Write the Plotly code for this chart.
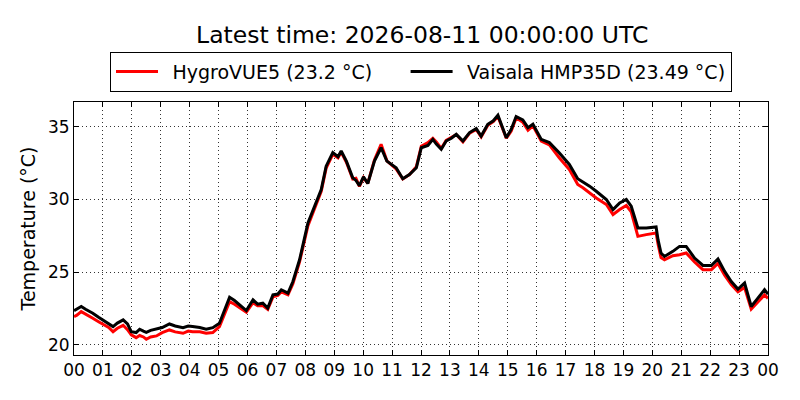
#######
# Daily temperature comparison: HygroVUE5 vs Vaisala HMP35D
######

import plotly.graph_objs as go
import pandas as pd

# hours after midnight (2026-08-10) where values were read
hours = [0.00, 0.10, 0.25, 0.40, 0.65, 0.85, 1.00, 1.20, 1.35, 1.50, 1.70, 1.85,
         1.98, 2.15, 2.27, 2.40, 2.50, 2.65, 2.85, 3.05, 3.30, 3.50, 3.77, 3.95,
         4.10, 4.35, 4.57, 4.80, 5.03, 5.20, 5.38, 5.55, 5.73, 5.96, 6.19, 6.35,
         6.53, 6.70, 6.88, 7.05, 7.17, 7.40, 7.57, 7.80, 8.09, 8.32, 8.55, 8.72,
         8.95, 9.13, 9.24, 9.42, 9.64, 9.75, 9.87, 10.01, 10.16, 10.39, 10.62, 10.82,
         11.14, 11.37, 11.60, 11.84, 12.01, 12.24, 12.41, 12.53, 12.70, 12.87, 13.05, 13.22,
         13.45, 13.68, 13.91, 14.08, 14.31, 14.50, 14.66, 14.95, 15.12, 15.29, 15.52, 15.70,
         15.87, 16.16, 16.44, 16.78, 17.13, 17.42, 17.60, 17.83, 18.06, 18.41, 18.64, 18.87,
         19.10, 19.27, 19.50, 19.79, 20.13, 20.20, 20.30, 20.42, 20.71, 20.94, 21.17, 21.30,
         21.46, 21.75, 22.04, 22.27, 22.50, 22.73, 22.96, 23.19, 23.42, 23.65, 23.88, 24.00]

vaisala = [22.36, 22.45, 22.64, 22.45, 22.18, 21.90, 21.72, 21.50, 21.26, 21.50, 21.72, 21.45,
           20.91, 20.85, 21.08, 20.95, 20.87, 21.00, 21.08, 21.20, 21.44, 21.30, 21.19, 21.30,
           21.26, 21.20, 21.08, 21.19, 21.49, 22.30, 23.28, 23.05, 22.75, 22.36, 23.10, 22.80,
           22.87, 22.53, 23.44, 23.50, 23.79, 23.56, 24.36, 25.85, 28.38, 29.53, 30.68, 32.28,
           33.21, 32.93, 33.32, 32.63, 31.48, 31.30, 30.95, 31.55, 31.09, 32.63, 33.55, 32.63,
           32.17, 31.42, 31.71, 32.17, 33.55, 33.70, 34.12, 33.80, 33.44, 34.01, 34.20, 34.47,
           34.01, 34.59, 34.86, 34.35, 35.16, 35.40, 35.78, 34.24, 34.81, 35.69, 35.46, 34.93,
           35.16, 34.12, 33.90, 33.21, 32.40, 31.42, 31.20, 30.91, 30.56, 29.99, 29.30, 29.76,
           29.99, 29.53, 28.04, 28.04, 28.11, 27.20, 26.32, 26.08, 26.43, 26.77, 26.77, 26.40,
           25.97, 25.46, 25.46, 25.90, 25.05, 24.36, 23.84, 24.25, 22.64, 23.22, 23.79, 23.49]

hygrovue = [21.95, 22.05, 22.29, 22.10, 21.84, 21.60, 21.45, 21.20, 20.91, 21.15, 21.35, 21.05,
            20.69, 20.50, 20.65, 20.55, 20.39, 20.55, 20.62, 20.85, 21.03, 20.90, 20.80, 20.95,
            20.90, 20.90, 20.80, 20.85, 21.26, 22.05, 22.98, 22.80, 22.55, 22.25, 22.90, 22.70,
            22.70, 22.45, 23.30, 23.40, 23.65, 23.45, 24.20, 25.70, 28.20, 29.40, 30.55, 32.15,
            33.10, 32.85, 33.25, 32.55, 31.40, 31.45, 30.90, 31.50, 31.10, 32.70, 33.78, 32.65,
            32.10, 31.40, 31.70, 32.25, 33.65, 33.90, 34.20, 33.95, 33.50, 34.05, 34.25, 34.45,
            33.95, 34.55, 34.80, 34.30, 35.10, 35.35, 35.70, 34.20, 34.70, 35.60, 35.30, 34.75,
            35.05, 34.00, 33.75, 32.86, 32.06, 31.02, 30.80, 30.45, 30.10, 29.65, 28.96, 29.30,
            29.58, 29.15, 27.46, 27.58, 27.69, 26.90, 26.00, 25.85, 26.13, 26.20, 26.32, 26.05,
            25.70, 25.17, 25.17, 25.60, 24.80, 24.15, 23.65, 23.95, 22.46, 22.95, 23.44, 23.20]

names = ['HygroVUE5 (23.2 °C)', 'Vaisala HMP35D (23.49 °C)']
title_text = 'Latest time: 2026-08-11 00:00:00 UTC'

start = pd.Timestamp('2026-08-10 00:00:00')
times = start + pd.to_timedelta(hours, unit='h')

font = 'DejaVu Sans'

# en space in front of the names opens up the gap after the legend line,
# the trailing spaces on the first one push the second entry to the right
data = [
    go.Scatter(x=times, y=hygrovue, name='\u2002' + names[0] + '\u2003\u2002', mode='lines',
               line=dict(color='#ff0000', width=3)),
    go.Scatter(x=times, y=vaisala, name='\u2002' + names[1], mode='lines',
               line=dict(color='#000000', width=3)),
]

# matplotlib-classic look: inward ticks on all four sides, sparse dotted grid
axis_style = dict(showline=True, linecolor='black', linewidth=1, mirror='allticks',
                  ticks='inside', ticklen=5, tickcolor='black',
                  showgrid=True, gridcolor='#333333', griddash='1px,3px', gridwidth=1,
                  zeroline=False, tickfont=dict(family=font, size=17, color='black'))

# page body has an 8px margin, so the figure is a little smaller than the window
layout = go.Layout(
    width=792, height=392,
    margin=dict(l=66, r=32, t=94, b=45),
    paper_bgcolor='white', plot_bgcolor='white',
    font=dict(family=font, color='black'),
    title=dict(text=title_text, x=0.523, xanchor='center', y=0.931, yanchor='middle',
               yref='container', font=dict(size=23.5, family=font, color='black')),
    showlegend=True,
    legend=dict(orientation='h', x=0.5, xanchor='center', y=1.12, yanchor='middle',
                bordercolor='black', borderwidth=1, font=dict(size=19, family=font),
                itemwidth=42, traceorder='normal'),
    xaxis=dict(axis_style, type='date', range=[start, start + pd.Timedelta(hours=24)],
               dtick=3600000, tickformat='%H', tick0=start),
    yaxis=dict(axis_style, range=[19.31, 36.69], dtick=5,
               title=dict(text='Temperature (°C)', standoff=7,
                          font=dict(size=19, family=font))),
)

fig = go.Figure(data=data, layout=layout)
fig.write_html('out.html')
